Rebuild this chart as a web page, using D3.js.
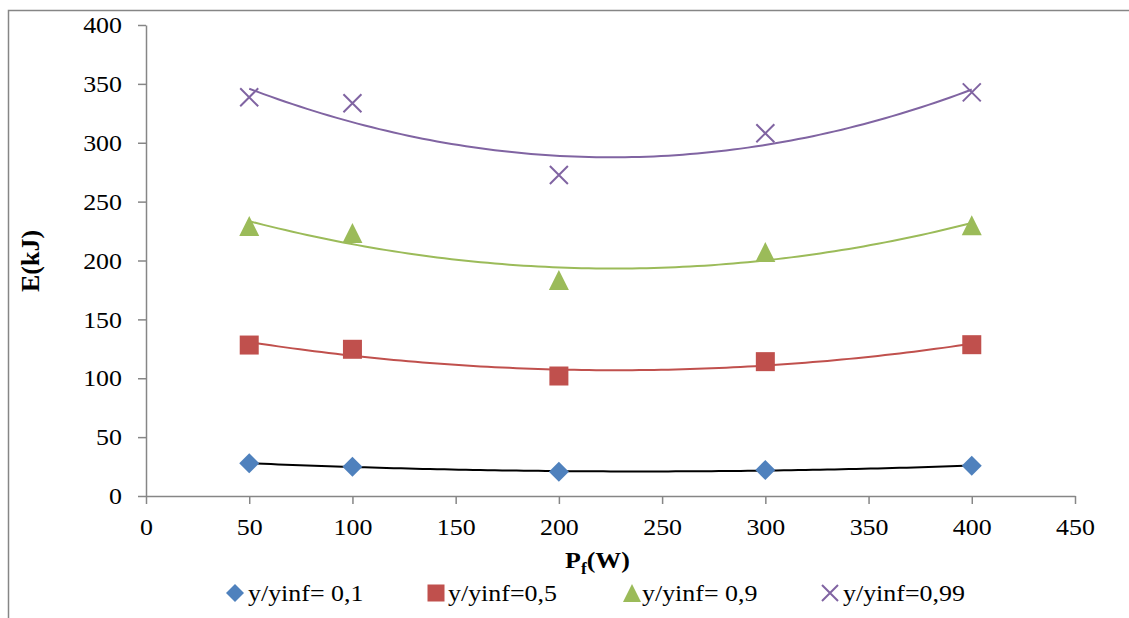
<!DOCTYPE html>
<html>
<head>
<meta charset="utf-8">
<script src="https://cdn.jsdelivr.net/npm/d3@7"></script>
<style>
  html, body { margin: 0; padding: 0; background: #fff; }
  svg { display: block; }
  text { font-family: "Liberation Serif", "Times New Roman", serif; fill: #000; }
</style>
</head>
<body>
<svg id="chart" width="1129" height="618"></svg>
<script>
// Flow power P_f (W) at which each run was made
const powers = [50, 100, 200, 300, 400];

// Energy E (kJ) for each y/yinf level
const energy01 = [27.8, 24.9, 20.6, 22.1, 25.7];
const energy05 = [128.2, 124.6, 101.9, 114.1, 128.5];
const energy09 = [229.3, 223.4, 183.4, 207.2, 230.0];
const energy099 = [338.6, 333.5, 272.6, 308.0, 342.8];

const seriesLabels = ["y/yinf= 0,1", "y/yinf=0,5", "y/yinf= 0,9", "y/yinf=0,99"];
const xTicks = [0, 50, 100, 150, 200, 250, 300, 350, 400, 450];
const yTicks = [0, 50, 100, 150, 200, 250, 300, 350, 400];

const series = [
  { label: seriesLabels[0], values: energy01, marker: "diamond", color: "#4F81BD", trend: "#000000" },
  { label: seriesLabels[1], values: energy05, marker: "square", color: "#C0504D", trend: "#C0504D" },
  { label: seriesLabels[2], values: energy09, marker: "triangle", color: "#9BBB59", trend: "#9BBB59" },
  { label: seriesLabels[3], values: energy099, marker: "cross", color: "#8064A2", trend: "#8064A2" }
];

const svg = d3.select("#chart");
const axisColor = "#868686";
const stretch = 1.08; // glyph width factor of the serif labels

// Outer frame (open at the right and bottom edges)
svg.append("path")
  .attr("d", "M8.5,618 L8.5,10.5 L1129,10.5")
  .attr("fill", "none").attr("stroke", axisColor).attr("stroke-width", 1.5);

const x = d3.scaleLinear().domain([0, 450]).range([146, 1075]);
const y = d3.scaleLinear().domain([0, 400]).range([496, 25]);

// Axes
const yAxis = svg.append("g").attr("transform", `translate(${x(0)},0)`)
  .call(d3.axisLeft(y).tickValues(yTicks).tickSize(8).tickSizeOuter(0).tickPadding(16));
const xAxis = svg.append("g").attr("transform", `translate(0,${y(0)})`)
  .call(d3.axisBottom(x).tickValues(xTicks).tickSize(8).tickSizeOuter(0).tickPadding(14));

[yAxis, xAxis].forEach(g => {
  g.select(".domain").attr("stroke", axisColor).attr("stroke-width", 1.5);
  g.selectAll(".tick line").attr("stroke", axisColor).attr("stroke-width", 1.5);
  g.selectAll(".tick text")
    .attr("font-size", 24).attr("fill", "#000");
});
yAxis.selectAll(".tick text").each(function () {
  d3.select(this).attr("x", -24 / stretch).attr("transform", `scale(${stretch},1)`);
});
xAxis.selectAll(".tick text").each(function () {
  d3.select(this).attr("transform", `scale(${stretch},1)`);
});

// Second order least-squares trend for a series
function quadFit(xs, ys) {
  const n = xs.length;
  let s1 = 0, s2 = 0, s3 = 0, s4 = 0, t0 = 0, t1 = 0, t2 = 0;
  for (let i = 0; i < n; i++) {
    const u = xs[i], v = ys[i];
    s1 += u; s2 += u * u; s3 += u * u * u; s4 += u * u * u * u;
    t0 += v; t1 += u * v; t2 += u * u * v;
  }
  const det3 = m => m[0][0] * (m[1][1] * m[2][2] - m[1][2] * m[2][1])
    - m[0][1] * (m[1][0] * m[2][2] - m[1][2] * m[2][0])
    + m[0][2] * (m[1][0] * m[2][1] - m[1][1] * m[2][0]);
  const A = [[n, s1, s2], [s1, s2, s3], [s2, s3, s4]];
  const rhs = [t0, t1, t2];
  const D = det3(A);
  const coef = [0, 1, 2].map(k => det3(A.map((row, r) => row.map((c, j) => j === k ? rhs[r] : c))) / D);
  return v => coef[0] + coef[1] * v + coef[2] * v * v;
}

const line = d3.line().x(d => x(d[0])).y(d => y(d[1]));
const xMin = d3.min(powers), xMax = d3.max(powers);

series.forEach(s => {
  const f = quadFit(powers, s.values);
  const pts = d3.range(0, 101).map(i => {
    const p = xMin + (xMax - xMin) * i / 100;
    return [p, f(p)];
  });
  svg.append("path").datum(pts)
    .attr("d", line).attr("fill", "none")
    .attr("stroke", s.trend).attr("stroke-width", 2);
});

// Marker shapes
function drawMarker(g, type, color, cx, cy, size) {
  const h = size / 2;
  if (type === "diamond") {
    g.append("path").attr("d", `M${cx},${cy - h}L${cx + h},${cy}L${cx},${cy + h}L${cx - h},${cy}Z`)
      .attr("fill", color);
  } else if (type === "square") {
    g.append("rect").attr("x", cx - h + 0.5).attr("y", cy - h + 0.5)
      .attr("width", size - 1).attr("height", size - 1).attr("fill", color);
  } else if (type === "triangle") {
    g.append("path").attr("d", `M${cx},${cy - h}L${cx + h},${cy + h}L${cx - h},${cy + h}Z`)
      .attr("fill", color);
  } else {
    const a = h - 1;
    g.append("path").attr("d", `M${cx - a},${cy - a}L${cx + a},${cy + a}M${cx - a},${cy + a}L${cx + a},${cy - a}`)
      .attr("stroke", color).attr("stroke-width", 2).attr("fill", "none");
  }
}

series.forEach(s => {
  const g = svg.append("g");
  s.values.forEach((v, i) => drawMarker(g, s.marker, s.color, x(powers[i]), y(v), 20));
});

// Axis titles
svg.append("text")
  .attr("transform", "translate(39,261) rotate(-90)")
  .attr("text-anchor", "middle")
  .attr("font-size", 26).attr("font-weight", "bold")
  .text("E(kJ)");

const xt = svg.append("text")
  .attr("transform", `translate(${x(225) - 13},568) scale(${stretch},1)`)
  .attr("text-anchor", "middle")
  .attr("font-size", 24).attr("font-weight", "bold");
xt.append("tspan").text("P");
xt.append("tspan").attr("font-size", 16).attr("dy", 6).text("f");
xt.append("tspan").attr("dy", -6).text("(W)");

// Legend
const legendPos = [
  { mx: 235, tx: 248 },
  { mx: 436, tx: 448 },
  { mx: 632, tx: 642 },
  { mx: 830, tx: 843 }
];
series.forEach((s, i) => {
  const g = svg.append("g");
  drawMarker(g, s.marker, s.color, legendPos[i].mx, 593, 18);
  g.append("text")
    .attr("transform", `translate(${legendPos[i].tx},601) scale(${stretch},1)`)
    .attr("font-size", 24)
    .text(s.label);
});
</script>
</body>
</html>
